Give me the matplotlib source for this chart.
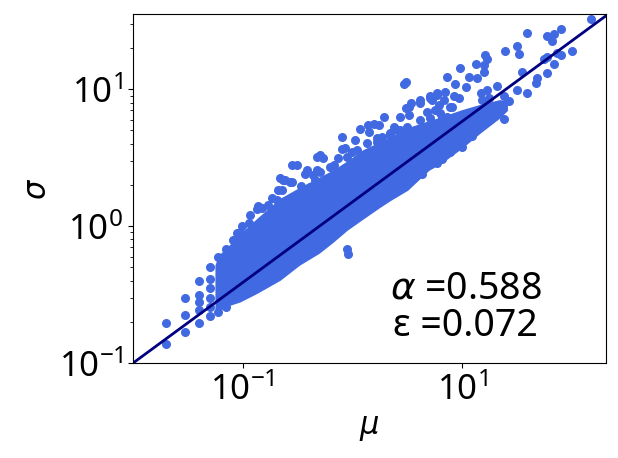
import numpy as np
import matplotlib
matplotlib.use("Agg")
import matplotlib.pyplot as plt
from matplotlib.ticker import NullLocator, FixedLocator

plt.rcParams['font.family'] = ['Noto Sans', 'Noto Sans CJK JP', 'DejaVu Sans']

# fitted power law sigma = c * mu^alpha
alpha = 0.588
eps = 0.072
mu_range = [0.01, 207.0]
c_fit = 1.5

# dense core of the cloud: lower / upper edge of sigma for each mu
core_mu = [0.056, 0.06, 0.077, 0.095, 0.135, 0.22, 0.33, 0.5, 0.67, 0.9, 1.25,
           1.8, 2.2, 3.2, 5.0, 6.5, 10.0, 15.0, 22.0, 26.0]
core_lo = [0.25, 0.24, 0.265, 0.28, 0.323, 0.403, 0.519, 0.635, 0.764, 0.935, 1.125,
           1.377, 1.53, 1.83, 2.56, 2.88, 3.71, 4.85, 6.14, 7.0]
core_hi = [0.52, 0.61, 0.74, 0.88, 1.14, 1.60, 1.92, 2.28, 2.58, 3.0, 3.62,
           4.15, 4.48, 5.25, 5.9, 6.3, 7.1, 7.8, 8.4, 8.2]

# individual points outside the core
mu_pts = [0.02, 0.02, 0.03, 0.03, 0.03, 0.04, 0.04, 0.04, 0.04, 0.04,
          0.05, 0.05, 0.05, 0.05, 0.05, 0.05, 0.06, 0.06, 0.07, 0.07,
          0.0824, 0.0897, 0.0996, 0.115, 0.135, 0.172, 0.205, 0.228, 0.244, 0.281,
          0.340, 0.313, 0.281, 0.372, 0.477, 0.459, 0.212, 0.139, 0.413, 0.233,
          0.385, 0.511, 0.547, 0.805, 0.805, 1.18, 1.41, 1.74, 1.93, 2.74,
          3.27, 4.18, 4.81, 5.73, 7.85, 1.06, 0.99, 0.675, 0.477,
          3.11, 2.98, 7.33, 5.94, 5.15, 4.12, 3.46, 3.11, 6.82, 6.14,
          5.35, 1.57, 1.38, 2.38, 3.27, 2.74, 1.87, 2.22, 1.68, 0.863,
          149, 79.4, 68.9, 60.0, 66.7, 38.8, 101, 79.4, 74.0, 60.0,
          55.9, 68.9, 60.0, 48.6, 46.9, 39.4, 35.5, 31.9, 24.9, 31.5,
          33.0, 16.4, 17.0, 13.3, 15.8, 9.69, 15.8, 11.5, 13.8, 8.73,
          10.8, 20.9, 17.0, 14.8, 7.07, 5.94, 5.15, 8.41, 9.35, 17.6,
          24.1, 26.7, 18.2, 20.2, 24.1, 15.3, 8.14, 6.59, 12.8, 16.4,
          15.3, 12.4, 10.4, 12.4, 10.0, 7.85, 6.59, 5.94, 4.64, 4.33,
          0.895, 0.919,
          0.220, 0.272, 0.441, 0.511, 0.630, 0.745, 0.895, 1.10, 1.36, 1.68,
          2.22, 2.56, 3.16, 4.18, 5.15, 6.37, 7.33, 0.117, 0.151, 0.186, 0.095]
sigma_pts = [0.139, 0.198, 0.169, 0.224, 0.298, 0.195, 0.244, 0.280, 0.314, 0.399,
             0.220, 0.258, 0.297, 0.351, 0.410, 0.500, 0.237, 0.597, 0.258, 0.687,
             0.791, 0.893, 1.00, 1.047, 1.346, 1.42, 1.55, 1.85, 2.17, 2.11,
             1.96, 2.79, 2.79, 2.42, 3.20, 2.17, 1.83, 1.40, 1.94, 2.19,
             2.56, 3.30, 3.17, 4.49, 3.69, 5.16, 4.88, 5.46, 6.28, 6.28,
             7.43, 7.87, 6.83, 7.03, 7.43, 4.24, 3.49, 2.79, 2.56,
             11.3, 10.9, 12.3, 9.46, 8.89, 8.31, 7.94, 7.35, 8.31, 7.64,
             8.41, 5.62, 5.46, 5.31, 6.46, 5.02, 4.49, 4.62, 4.12, 3.75,
             32.8, 27.3, 25.2, 24.4, 22.5, 25.9, 19.0, 17.7, 18.4, 17.2,
             16.5, 15.4, 13.2, 12.0, 11.1, 9.40, 13.4, 9.84, 19.0, 20.6,
             18.2, 17.7, 16.5, 15.2, 15.0, 14.4, 13.4, 12.3, 12.0, 11.0,
             10.4, 10.5, 9.84, 9.40, 9.55, 9.04, 8.70, 8.89, 8.70, 8.70,
             8.89, 8.22, 7.43, 7.11, 6.11, 8.31, 7.43, 6.28, 6.65, 6.21,
             5.46, 5.16, 5.46, 4.54, 3.79, 3.49, 3.12, 2.87, 2.71, 2.42,
             0.687, 0.625,
             2.24, 2.09, 2.36, 2.49, 2.71, 3.13, 3.20, 3.59, 4.03, 4.39,
             4.77, 5.02, 5.31, 5.94, 6.14, 6.68, 6.28, 1.20, 1.35, 1.60, 0.904]

fig = plt.figure(figsize=(6.18, 4.58), dpi=100)
ax = fig.add_axes([0.215, 0.207, 0.766, 0.762])

ax.fill_between(core_mu, core_lo, core_hi, color='royalblue', lw=0)
ax.scatter(mu_pts, sigma_pts, s=30, color='royalblue')

x_line = np.array(mu_range)
ax.plot(x_line, c_fit * x_line ** alpha, color='navy', lw=2)

ax.set_xscale('log')
ax.set_yscale('log')
ax.set_xlim(mu_range)
ax.set_ylim(0.1, 35.3)
ax.xaxis.set_major_locator(FixedLocator([0.1, 10]))
ax.xaxis.set_minor_locator(NullLocator())
ax.tick_params(labelsize=25)

ax.set_xlabel(r'$\mu$', fontsize=22)
ax.set_ylabel(r'$\sigma$', fontsize=22)

ax.text(0.703, 0.16, '$\\alpha$ =%.3f\nε =%.3f' % (alpha, eps), transform=ax.transAxes,
        fontsize=27, ha='center', va='center', multialignment='center',
        linespacing=1.0)

plt.savefig('out.png', dpi=100)
